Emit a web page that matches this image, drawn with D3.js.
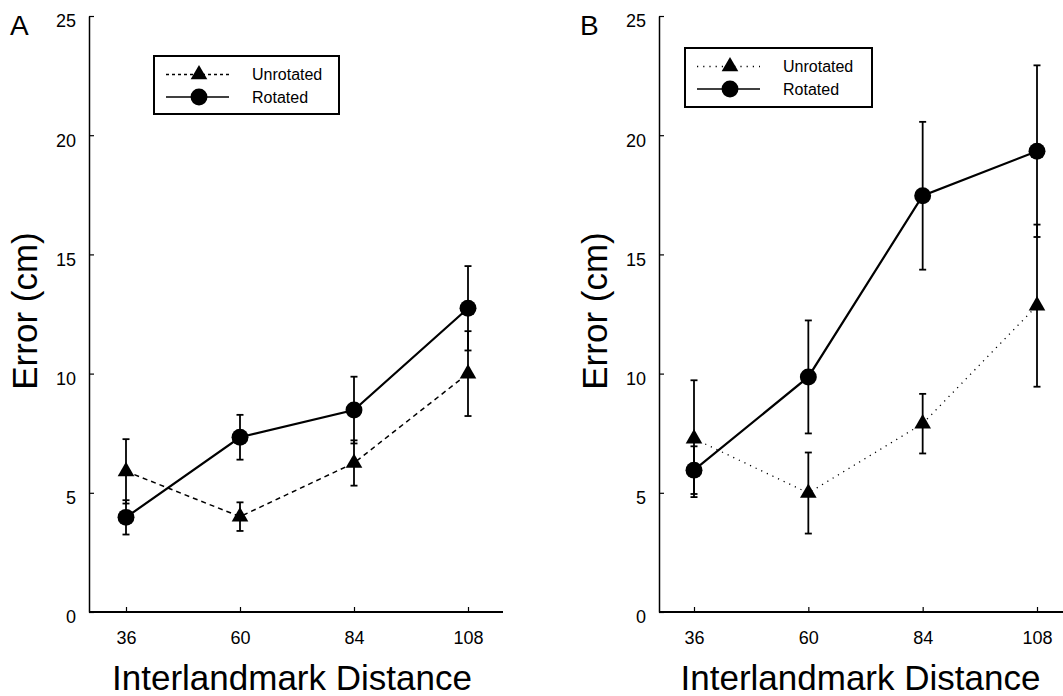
<!DOCTYPE html>
<html>
  <head>
    <meta charset="utf-8">
    <title>Error by interlandmark distance</title>
    <style>
      body { margin: 0; background: #fff; }
      svg { display: block; font-family: "Liberation Sans", Arial, Helvetica, sans-serif; }
    </style>
  </head>
  <body>
    <svg class="chart"></svg>
    <script src="https://cdn.jsdelivr.net/npm/d3@7"></script>
    <script>

var distances = [36, 60, 84, 108]
var errorTicks = [0, 5, 10, 15, 20, 25]
var seriesNames = ["Unrotated", "Rotated"]

// panel A: means and error bars (cm)
var unrotatedA = [5.9, 4.0, 6.25, 10.0]
var unrotatedErrA = [1.35, 0.6, 0.95, 1.78]
var rotatedA = [3.97, 7.33, 8.47, 12.74]
var rotatedErrA = [0.72, 0.94, 1.4, 1.77]

// panel B
var unrotatedB = [7.27, 4.99, 7.9, 12.85]
var unrotatedErrB = [2.45, 1.7, 1.25, 3.4]
var rotatedB = [5.95, 9.86, 17.46, 19.33]
var rotatedErrB = [1.0, 2.37, 3.1, 3.6]

var width = 1063
var height = 696

var svg = d3.select(".chart")
    .attr("width", width)
    .attr("height", height)

var panels = [
    {letter: "A", left: 89, right: 503, first: 126, last: 468,
     unrot: unrotatedA, unrotErr: unrotatedErrA, rot: rotatedA, rotErr: rotatedErrA,
     dash: "5,4", dashWidth: 1.5, legendDash: "3,3",
     legend: {x: 154, y: 56, w: 185, h: 58}},
    {letter: "B", left: 659, right: 1063, first: 694, last: 1037,
     unrot: unrotatedB, unrotErr: unrotatedErrB, rot: rotatedB, rotErr: rotatedErrB,
     dash: "1.2,5", dashWidth: 1.3, legendDash: "1.2,5",
     legend: {x: 685, y: 48, w: 187, h: 59}}
]

var plotTop = 16
var plotBottom = 612

var y = d3.scaleLinear().domain([0, 25]).range([plotBottom, plotTop])

panels.forEach(function(p) {
    var g = svg.append("g")
    var x = d3.scaleLinear().domain([36, 108]).range([p.first, p.last])

    // y axis, ticks point inward
    var yAxis = g.append("g")
        .attr("transform", "translate(" + p.left + ",0)")
        .call(d3.axisLeft(y).tickValues(errorTicks).tickSizeInner(-5).tickSizeOuter(0).tickPadding(13))
    yAxis.attr("font-family", null).attr("font-size", 18)
    yAxis.select(".domain").attr("stroke-width", 1.5)
    yAxis.selectAll(".tick line").attr("stroke-width", 1.2)
    yAxis.selectAll(".tick text").attr("dy", "0.6em").attr("fill", "#000")

    // x axis
    var xAxis = g.append("g")
        .attr("transform", "translate(0," + plotBottom + ")")
        .call(d3.axisBottom(x).tickValues(distances).tickSizeInner(-5).tickSizeOuter(0).tickPadding(19))
    xAxis.attr("font-family", null).attr("font-size", 18)
    xAxis.select(".domain").remove()
    xAxis.selectAll(".tick line").attr("stroke-width", 1.2)
    xAxis.selectAll(".tick text").attr("fill", "#000")
    g.append("line")
        .attr("x1", p.left).attr("x2", p.right)
        .attr("y1", plotBottom).attr("y2", plotBottom)
        .attr("stroke", "#000").attr("stroke-width", 2)

    // titles
    g.append("text")
        .attr("x", p.left - 79).attr("y", 35)
        .attr("font-size", 28)
        .text(p.letter)
    g.append("text")
        .attr("transform", "translate(" + (p.left - 52) + ",311)rotate(-90)")
        .attr("text-anchor", "middle")
        .attr("font-size", 35)
        .text("Error (cm)")
    g.append("text")
        .attr("x", (p.first + p.last) / 2 - 5).attr("y", 690)
        .attr("text-anchor", "middle")
        .attr("font-size", 35)
        .text("Interlandmark Distance")

    var series = [
        {name: seriesNames[0], values: p.unrot, err: p.unrotErr, dash: p.dash, lw: p.dashWidth, symbol: d3.symbolTriangle, size: 120},
        {name: seriesNames[1], values: p.rot, err: p.rotErr, dash: null, lw: 2.2, symbol: d3.symbolCircle, size: 225}
    ]

    var line = d3.line()
        .x(function(d, i) { return x(distances[i]) })
        .y(function(d) { return y(d) })

    series.forEach(function(s) {
        g.append("path")
            .datum(s.values)
            .attr("d", line)
            .attr("fill", "none")
            .attr("stroke", "#000")
            .attr("stroke-width", s.lw)
            .attr("stroke-dasharray", s.dash)
    })

    series.forEach(function(s) {
        var bars = g.append("g").selectAll("g")
            .data(s.values)
            .enter().append("g")
            .attr("stroke", "#000")
            .attr("stroke-width", 1.8)
        bars.append("line")
            .attr("x1", function(d, i) { return x(distances[i]) })
            .attr("x2", function(d, i) { return x(distances[i]) })
            .attr("y1", function(d, i) { return y(d + s.err[i]) })
            .attr("y2", function(d, i) { return y(d - s.err[i]) })
        bars.append("line")
            .attr("x1", function(d, i) { return x(distances[i]) - 3.5 })
            .attr("x2", function(d, i) { return x(distances[i]) + 3.5 })
            .attr("y1", function(d, i) { return y(d + s.err[i]) })
            .attr("y2", function(d, i) { return y(d + s.err[i]) })
        bars.append("line")
            .attr("x1", function(d, i) { return x(distances[i]) - 3.5 })
            .attr("x2", function(d, i) { return x(distances[i]) + 3.5 })
            .attr("y1", function(d, i) { return y(d - s.err[i]) })
            .attr("y2", function(d, i) { return y(d - s.err[i]) })
    })

    series.forEach(function(s) {
        g.append("g").selectAll("path")
            .data(s.values)
            .enter().append("path")
            .attr("transform", function(d, i) { return "translate(" + x(distances[i]) + "," + y(d) + ")" })
            .attr("d", d3.symbol().type(s.symbol).size(s.size))
            .attr("fill", "#000")
    })

    // legend
    var lg = g.append("g")
        .attr("transform", "translate(" + p.legend.x + "," + p.legend.y + ")")
    lg.append("rect")
        .attr("width", p.legend.w).attr("height", p.legend.h)
        .attr("fill", "#fff").attr("stroke", "#000").attr("stroke-width", 2)
    var rows = lg.selectAll(".row")
        .data(series)
        .enter().append("g")
        .attr("class", "row")
        .attr("transform", function(d, i) { return "translate(0," + (i === 0 ? 18.5 : 41) + ")" })
    rows.append("line")
        .attr("x1", 12).attr("x2", 75)
        .attr("stroke", "#000")
        .attr("stroke-width", function(d, i) { return i === 0 ? p.dashWidth : 1.5 })
        .attr("stroke-dasharray", function(d, i) { return i === 0 ? p.legendDash : null })
    rows.append("path")
        .attr("transform", "translate(45,0)")
        .attr("d", function(d) { return d3.symbol().type(d.symbol).size(d.size)() })
        .attr("fill", "#000")
    rows.append("text")
        .attr("x", 98).attr("dy", "0.36em")
        .attr("font-size", 16)
        .text(function(d) { return d.name })
})

    </script>
  </body>
</html>
